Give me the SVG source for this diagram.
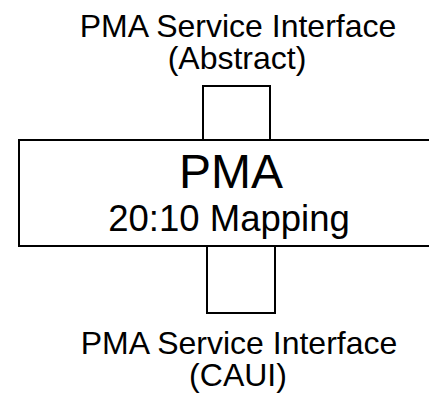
<svg xmlns="http://www.w3.org/2000/svg" width="429" height="393" viewBox="0 0 429 393">
<style>
.box{fill:#fff;stroke:#000;stroke-width:2}
text{font-family:"Liberation Sans",Arial,sans-serif;fill:#000;text-anchor:middle}
.lbl{font-size:32px}
</style>
<rect width="429" height="393" fill="#fff"/>
<g id="top-label">
<text class="lbl" x="238" y="37">PMA Service Interface</text>
<text class="lbl" x="237" y="69">(Abstract)</text>
</g>
<g id="connectors">
<rect id="top-interface" class="box" x="203" y="86" width="67" height="54"/>
<rect id="bottom-interface" class="box" x="207" y="246" width="68" height="67"/>
</g>
<g id="pma">
<rect class="box" x="19" y="140" width="430" height="106"/>
<text x="231" y="188" font-size="48">PMA</text>
<text x="229" y="231" font-size="36.5">20:10 Mapping</text>
</g>
<g id="bottom-label">
<text class="lbl" x="239" y="354">PMA Service Interface</text>
<text class="lbl" x="238" y="386">(CAUI)</text>
</g>
</svg>
